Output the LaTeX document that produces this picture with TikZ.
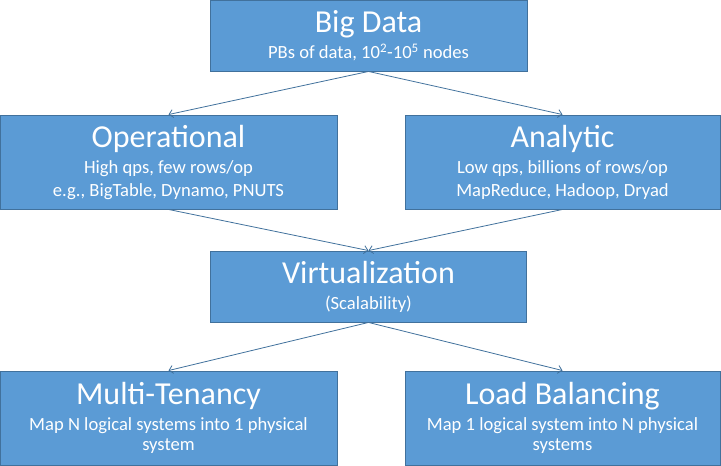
\documentclass[tikz,border=0pt]{standalone}
\usepackage{fontspec}
\setmainfont{Carlito}
\usetikzlibrary{arrows.meta,positioning}
\definecolor{boxfill}{HTML}{5B9BD5}
\definecolor{boxline}{HTML}{41719C}
\newcommand{\boxhead}[1]{{\fontsize{32}{34}\selectfont #1}}
\tikzset{
    block/.style = {draw=boxline, fill=boxfill, rectangle, line width=0.9pt,
        text=white, inner sep=0pt, font=\fontsize{18.6}{23}\selectfont,
        minimum height=94pt,
        minimum width=315pt, align=center},
    arrow/.style={draw=boxline, line width=0.8pt, -{Straight Barb[length=4pt,width=8pt]}}
}

\begin{document}
\begin{tikzpicture}[auto, node distance=2cm]
        \useasboundingbox (0,0) rectangle (721pt,-466pt);
        \node [block, minimum width=317pt, minimum height=71pt] (big) at (368.5pt,-35.5pt)
            {\boxhead{Big Data}\\[3pt] PBs of data, 10\textsuperscript{2}-10\textsuperscript{5} nodes};
        \node [block, minimum width=337pt, below of=big, node distance=126.5pt, xshift=-200pt] (oper)
            {\boxhead{Operational}\\[3pt] High qps, few rows/op\\ e.g., BigTable, Dynamo, PNUTS};
        \node [block, right of=oper, node distance=394pt] (anly)
            {\boxhead{Analytic}\\[3pt] Low qps, billions of rows/op\\ MapReduce, Hadoop, Dryad};
        \draw [arrow] (big.south) -- (oper.north);
        \draw [arrow] (big.south) -- (anly.north);
        \node [block, minimum width=316pt, minimum height=71pt, below of=big, node distance=251pt] (virt)
            {\boxhead{Virtualization}\\[3pt] (Scalability)};
        \draw [arrow] (oper.south) -- (virt.north);
        \draw [arrow] (anly.south) -- (virt.north);
        \node [block, minimum width=337pt, below of=oper, node distance=256pt] (tenant)
            {\boxhead{Multi-Tenancy}\\[3pt] Map N logical systems into 1 physical\\[-2.5pt] system};
        \node [block, below of=anly, node distance=256pt] (balance)
            {\boxhead{Load Balancing}\\[3pt] Map 1 logical system into N physical\\[-2.5pt] systems};
        \draw [arrow] (virt.south) -- (tenant.north);
        \draw [arrow] (virt.south) -- (balance.north);
\end{tikzpicture}
\end{document}
